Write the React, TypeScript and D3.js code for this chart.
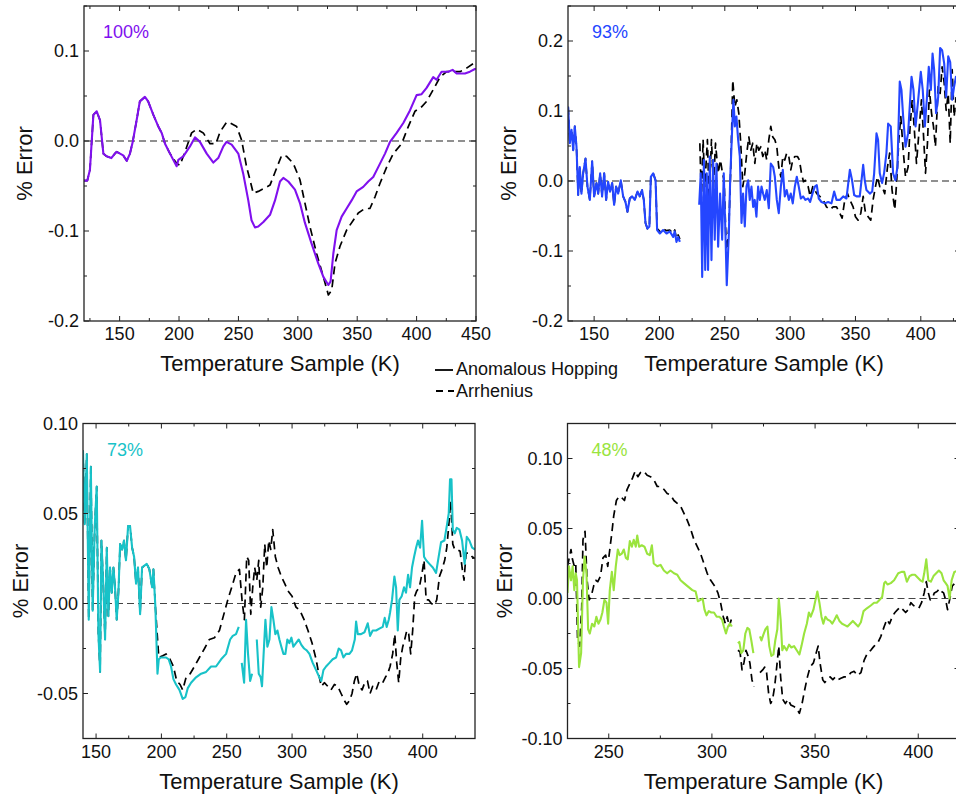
import React from "react";
import * as d3 from "d3";

type Pt = [number, number] | null;

// ---------- Panel A: 100% ----------
const hop100: Pt[] = [
  [120, -0.044], [122.8, -0.044], [125, -0.032], [127.9, 0.029], [130.7, 0.033], [133.5, 0.023], [136.3, -0.014],
  [139, -0.017], [143, -0.019], [146, -0.014], [147.5, -0.012], [150.3, -0.014], [153, -0.016], [156, -0.022],
  [158.7, -0.014], [161, -0.001], [164.3, 0.023], [167, 0.044], [171.3, 0.049], [174, 0.044], [178.4, 0.029],
  [182.6, 0.016], [185.4, 0.009], [188.2, -0.003], [192.4, -0.014], [198, -0.028], [199.4, -0.021], [203.6, -0.017],
  [209.2, -0.006], [213.4, 0.004], [217.6, -0.001], [223.3, -0.014], [228.9, -0.024], [233, -0.019], [237.3, -0.006],
  [240, -0.001], [244.3, -0.004], [249.9, -0.014], [254, -0.036], [258.3, -0.066], [261, -0.088], [263.9, -0.096],
  [266.7, -0.095], [271, -0.09], [276.6, -0.082], [280.8, -0.066], [285, -0.045], [287.8, -0.041], [292, -0.045],
  [297.6, -0.054], [301.8, -0.069], [306, -0.091], [311.6, -0.114], [317.2, -0.136], [321.5, -0.151], [325.7, -0.16],
  [327.6, -0.156], [329.9, -0.125], [332.7, -0.099], [336.9, -0.084], [341.1, -0.075], [345.3, -0.066], [349.5, -0.056],
  [355.1, -0.051], [359.3, -0.045], [363.5, -0.04], [367.7, -0.029], [373.4, -0.014], [377.6, -0.001], [383.2, 0.009],
  [388.8, 0.02], [394.4, 0.034], [400, 0.051], [404.2, 0.052], [408.4, 0.059], [414, 0.071], [416.8, 0.068],
  [421, 0.077], [426.7, 0.077], [430.3, 0.079], [433.7, 0.075], [440.7, 0.075], [444.9, 0.077], [449.1, 0.08], [450, 0.08],
];
const arr100: Pt[] = [
  [120, -0.044], [122.8, -0.044], [125, -0.032], [127.9, 0.029], [130.7, 0.033], [133.5, 0.023], [136.3, -0.014],
  [139, -0.017], [143, -0.019], [146, -0.014], [147.5, -0.012], [150.3, -0.014], [153, -0.016], [156, -0.022],
  [158.7, -0.014], [161, -0.001], [164.3, 0.023], [167, 0.044], [171.3, 0.049], [174, 0.044], [178.4, 0.029],
  [182.6, 0.016], [185.4, 0.009], [188.2, -0.003], [192.4, -0.014], [198, -0.025], [200.8, -0.027], [205, -0.012],
  [210.6, 0.009], [214.8, 0.013], [220.4, 0.009], [226.1, -0.003], [231.1, -0.003], [234.5, 0.01], [240.1, 0.021],
  [242.9, 0.02], [248.5, 0.016], [252.7, 0.001], [256.9, -0.029], [259.7, -0.043], [262.5, -0.058], [266.7, -0.056],
  [271, -0.053], [276.6, -0.049], [282.2, -0.03], [286.4, -0.016], [290.6, -0.017], [296.2, -0.025], [301.8, -0.043],
  [306, -0.069], [310.2, -0.095], [315.8, -0.125], [321.5, -0.151], [325.7, -0.171], [328.5, -0.166], [331.3, -0.136],
  [335.5, -0.117], [341.1, -0.099], [346.7, -0.088], [350.9, -0.08], [356.5, -0.075], [360.7, -0.075], [365, -0.062],
  [369.2, -0.047], [374.8, -0.029], [380.4, -0.014], [387.4, -0.003], [393, 0.016], [398.6, 0.033], [404.2, 0.038],
  [408.4, 0.044], [414, 0.057], [419.7, 0.071], [425.3, 0.077], [430.9, 0.077], [436.5, 0.077], [442.1, 0.081],
  [447.7, 0.086], [450, 0.088],
];

// ---------- Panel B: 93% ----------
const hop93: Pt[] = [
  [130.1, 0.106], [131.4, 0.054], [132.7, 0.073], [134, 0.044], [135.2, 0.078], [136.5, 0.049], [137.8, -0.02],
  [139, 0.02], [140.3, -0.018], [141.6, 0.011], [143.4, 0.032], [144.9, -0.008], [146.7, -0.027], [148.5, 0.028],
  [150, -0.022], [151.8, -0.003], [153.1, -0.018], [154.6, 0.011], [156.1, -0.022], [157.7, 0.011], [159.2, -0.027],
  [160.7, -0.001], [162.2, -0.015], [163.8, -0.003], [165.3, -0.034], [166.8, -0.008], [168.4, -0.018], [170.4, 0.001],
  [172.2, -0.022], [174, -0.03], [175.5, -0.044], [177.3, -0.025], [179.1, -0.022], [181.1, -0.027], [183.2, -0.015],
  [184.9, -0.022], [186.7, -0.013], [188, -0.027], [189.3, -0.06], [190.8, -0.068], [192.3, -0.065], [193.4, 0.006],
  [195.2, 0.011], [197, 0.001], [198.2, -0.07], [200.3, -0.075], [202.8, -0.07], [205.4, -0.075], [207.9, -0.072],
  [210.5, -0.08], [211.7, -0.072], [213, -0.087], [214.3, -0.08], [215.6, -0.087],
  null,
  [230.4, -0.034], [231.6, 0.011], [232.7, -0.137], [234, 0.03], [235, -0.127], [236.2, 0.011], [237.2, -0.127],
  [238.5, 0.035], [239.8, -0.113], [241.1, 0.03], [242.3, -0.084], [243.6, 0.025], [244.9, -0.094], [246.4, -0.018],
  [248, -0.084], [249.2, 0.011], [250.5, -0.075], [251.5, -0.149], [253.1, -0.075], [254.1, 0.001], [255.6, 0.073],
  [256.6, 0.116], [257.7, 0.078], [258.9, 0.092], [260.2, 0.059], [261.5, 0.035], [262.8, -0.06], [264, -0.018],
  [265.3, -0.065], [266.6, -0.008], [267.9, 0.001], [269.1, -0.027], [270.4, -0.008], [271.7, -0.037], [272.9, -0.027],
  [274.2, -0.051], [275.5, -0.008], [276.8, -0.027], [278.1, -0.008], [279.3, -0.018], [280.6, -0.027], [282.1, -0.013],
  [283.7, -0.039], [285.2, 0.025], [287, 0.02], [288.3, 0.006], [289.8, -0.027], [291.3, -0.046], [292.9, -0.008],
  [294.4, 0.016], [295.9, -0.022], [297.4, -0.013], [299, -0.027], [300.5, -0.018], [302, -0.032], [303.6, -0.008],
  [305.1, 0.006], [306.6, -0.008], [308.2, -0.025], [309.9, -0.022], [311.7, -0.027], [313.8, -0.025], [315.3, -0.03],
  [317.1, -0.018], [318.9, -0.008], [320.4, -0.006], [321.9, -0.025], [324, -0.03], [326.5, -0.032], [329.1, -0.03],
  [331.6, -0.032], [333.7, -0.015], [335.5, -0.027], [338, -0.027], [340.6, -0.022], [343.1, -0.025], [345.7, 0.016],
  [347.4, 0.001], [349, -0.02], [350.8, -0.022], [353.3, -0.022], [355.9, 0.023], [357.1, 0.001], [358.4, -0.013],
  [361, -0.018], [362.8, -0.015], [364.3, 0.011], [366.1, 0.068], [367.3, 0.059], [368.6, 0.011], [370.4, -0.003],
  [371.9, 0.011], [373.7, 0.04], [375, 0.082], [377, 0.078], [378.8, 0.011], [380.6, 0.001], [382.1, 0.02],
  [383.9, 0.142], [385.2, 0.13], [386.5, 0.092], [388.3, 0.049], [390.3, 0.068], [392.9, 0.149], [394.4, 0.13],
  [396, 0.078], [398, 0.116], [400, 0.156], [401.5, 0.13], [403.1, 0.078], [404.6, 0.116], [406.1, 0.163],
  [407.7, 0.13], [409, 0.182], [410.2, 0.159], [411.7, 0.097], [413.3, 0.12], [414.8, 0.19], [416.3, 0.187],
  [417.9, 0.168], [419.4, 0.12], [421, 0.178], [422.5, 0.17], [424, 0.116], [425.5, 0.135], [427, 0.15],
];
const arr93: Pt[] = [
  [130.1, 0.106], [131.4, 0.054], [132.7, 0.073], [134, 0.044], [135.2, 0.078], [136.5, 0.049], [137.8, -0.02],
  [139, 0.02], [140.3, -0.018], [141.6, 0.011], [143.4, 0.032], [144.9, -0.008], [146.7, -0.027], [148.5, 0.028],
  [150, -0.022], [151.8, -0.003], [153.1, -0.018], [154.6, 0.011], [156.1, -0.022], [157.7, 0.011], [159.2, -0.027],
  [160.7, -0.001], [162.2, -0.015], [163.8, -0.003], [165.3, -0.034], [166.8, -0.008], [168.4, -0.018], [170.4, 0.001],
  [172.2, -0.022], [174, -0.03], [175.5, -0.044], [177.3, -0.025], [179.1, -0.022], [181.1, -0.027], [183.2, -0.015],
  [184.9, -0.022], [186.7, -0.013], [188, -0.027], [189.3, -0.06], [190.8, -0.068], [192.3, -0.065], [193.4, 0.006],
  [195.2, 0.011], [197, 0.001], [198.2, -0.068], [200.3, -0.072], [202.8, -0.068], [205.4, -0.071], [207.9, -0.07],
  [210.5, -0.075], [211.7, -0.07], [213, -0.082], [214.3, -0.077], [215.6, -0.083],
  null,
  [230.9, 0.054], [232.1, -0.027], [233.4, 0.059], [234.7, -0.008], [236.7, 0.059], [238, -0.027], [239.8, 0.059],
  [241.3, -0.008], [242.9, 0.054], [244.9, 0.011], [246.7, 0.03], [248.2, 0.011], [249.5, 0.001], [251.3, -0.108],
  [253.1, -0.065], [254.6, 0.02], [256.1, 0.144], [257.7, 0.106], [259.2, 0.116], [260.7, 0.097], [262.2, 0.054],
  [263.8, -0.008], [265.3, 0.011], [266.8, 0.04], [268.4, 0.063], [269.9, 0.044], [271.4, 0.054], [273, 0.025],
  [274.5, 0.054], [276, 0.044], [277.6, 0.049], [279.1, 0.035], [280.6, 0.044], [282.1, 0.03], [283.7, 0.059],
  [285.2, 0.078], [286.7, 0.063], [288.3, 0.059], [289.8, 0.049], [291.3, 0.02], [292.9, 0.006], [294.4, 0.035],
  [295.9, 0.03], [297.4, 0.04], [299, 0.035], [300.5, 0.016], [302, 0.03], [303.6, 0.035], [305.6, 0.035],
  [307.1, 0.03], [308.7, 0.011], [310.2, -0.001], [311.7, 0.001], [313.8, -0.008], [315.3, -0.022], [317.3, -0.008],
  [318.9, -0.013], [320.4, -0.018], [322.7, -0.022], [325.3, -0.027], [327.8, -0.037], [330.4, -0.041], [332.9, -0.037],
  [335.5, -0.037], [338, -0.046], [339.8, -0.053], [341.8, -0.027], [343.9, -0.018], [345.7, -0.027], [348.2, -0.037],
  [350, -0.051], [352, -0.056], [354.1, -0.046], [355.9, -0.022], [357.7, -0.046], [359.7, -0.051], [361.7, -0.056],
  [363.5, -0.027], [365.3, -0.008], [366.8, 0.006], [368.6, -0.008], [370.4, -0.008], [372.4, -0.018], [374.5, 0.02],
  [376.2, 0.04], [378, -0.013], [380.1, -0.041], [381.6, 0.001], [383.2, 0.059], [384.7, 0.092], [386.5, 0.044],
  [388.3, 0.006], [390.3, 0.02], [391.8, 0.078], [393.4, 0.116], [394.9, 0.078], [396.7, 0.025], [398.5, 0.068],
  [400.5, 0.116], [402, 0.068], [403.6, 0.011], [405.1, 0.054], [406.6, 0.13], [408.2, 0.097], [409.7, 0.078],
  [411.2, 0.049], [413.3, 0.135], [414.8, 0.125], [416.3, 0.163], [417.9, 0.14], [419.4, 0.101], [421, 0.125],
  [422.5, 0.054], [424, 0.159], [425.5, 0.092], [427, 0.12],
];

// ---------- Panel C: 73% ----------
const hop73: Pt[] = [
  [140, 0.085], [141.3, 0.044], [142.9, 0.083], [144.4, -0.009], [146, 0.076], [147.4, -0.004], [149, 0.043],
  [150.5, 0.065], [151.8, -0.017], [153.1, -0.038], [154.1, 0.035], [155.6, 0.009], [156.9, -0.02], [158.2, 0.031],
  [159.4, -0.007], [160.7, 0.02], [162, 0.006], [163.3, 0.02], [164.5, 0.009], [165.8, -0.009], [167.1, 0.006],
  [168.4, 0.033], [169.9, 0.03], [171.4, 0.035], [172.9, 0.024], [174.5, 0.043], [176, 0.043], [177.6, 0.031],
  [179.1, 0.026], [180.6, 0.011], [182.1, 0.02], [183.7, -0.006], [185.2, 0.02], [187, 0.021], [188.8, 0.022],
  [190.8, 0.019], [192.9, 0.009], [193.9, 0.019], [195.4, -0.002], [197, -0.039], [198, -0.031], [199.5, -0.03],
  [201.5, -0.03], [203.6, -0.03], [205.6, -0.031], [207.4, -0.035], [209.2, -0.042], [211.2, -0.045], [213.8, -0.048],
  [216.3, -0.053], [218.4, -0.052], [220.2, -0.047], [222.7, -0.044], [226.5, -0.041], [230.4, -0.039], [234.2, -0.038],
  [238, -0.035], [241.8, -0.035], [245.7, -0.031], [249.5, -0.028], [252.6, -0.02], [254.6, -0.018], [257.1, -0.017],
  [259.2, -0.013],
  null,
  [261.5, -0.033], [263.3, -0.044], [264.8, -0.009], [266.3, -0.028], [267.9, -0.043], [269.4, -0.039],
  null,
  [273, -0.02], [274.5, -0.039], [276, -0.041], [277, -0.046], [278.1, -0.03], [279.6, -0.009], [281.1, -0.024],
  [282.7, -0.02], [284.2, -0.002], [285.7, -0.009], [287.2, -0.017], [288.8, -0.015], [290.3, -0.02], [291.8, -0.024],
  [293.4, -0.028], [294.9, -0.028], [296.4, -0.02], [297.9, -0.022], [299.5, -0.019], [301, -0.024], [303, -0.022],
  [305.1, -0.02], [307.1, -0.023], [309.2, -0.025], [311.2, -0.026], [313.3, -0.028], [315.8, -0.033], [318.4, -0.037],
  [320.9, -0.041], [322.4, -0.043], [324, -0.037], [326, -0.035], [328.6, -0.033], [331.1, -0.031], [333.7, -0.03],
  [335.7, -0.025], [337.5, -0.026], [339.3, -0.03], [341.3, -0.028], [343.9, -0.028], [345.9, -0.026], [348, -0.02],
  [349, -0.01], [350.3, -0.017], [352.8, -0.017], [355.4, -0.016], [357.9, -0.011], [359.7, -0.018], [361.7, -0.015],
  [364.3, -0.015], [366.8, -0.014], [369.4, -0.013], [370.9, -0.008], [372.4, -0.013], [374, -0.009], [375, -0.005],
  [376.5, 0.002], [378.3, 0.015], [379.6, 0.009], [380.9, -0.015], [382.1, 0.002], [383.9, 0.004], [385.7, 0.009],
  [387.2, 0.006], [388.8, 0.016], [390.3, 0.009], [391.8, 0.02], [393.4, 0.026], [394.9, 0.031], [396.4, 0.035],
  [398, 0.031], [399.5, 0.046], [401, 0.026], [402.6, 0.024], [405.1, 0.022], [407.7, 0.02], [410.2, 0.017],
  [412.2, 0.026], [414, 0.034], [416.6, 0.035], [418.4, 0.043], [419.9, 0.05], [420.9, 0.069], [422, 0.069],
  [423, 0.041], [424.5, 0.039], [426, 0.042], [428.1, 0.041], [430.1, 0.035], [432.1, 0.022], [433.7, 0.037],
  [435.7, 0.035], [437.8, 0.031], [440, 0.03],
];
const arr73: Pt[] = [
  [140, 0.085], [141.3, 0.044], [142.9, 0.083], [144.4, -0.009], [146, 0.076], [147.4, -0.004], [149, 0.043],
  [150.5, 0.065], [151.8, -0.017], [153.1, -0.038], [154.1, 0.035], [155.6, 0.009], [156.9, -0.02], [158.2, 0.031],
  [159.4, -0.007], [160.7, 0.02], [162, 0.006], [163.3, 0.02], [164.5, 0.009], [165.8, -0.009], [167.1, 0.006],
  [168.4, 0.033], [169.9, 0.03], [171.4, 0.035], [172.9, 0.024], [174.5, 0.043], [176, 0.043], [177.6, 0.031],
  [179.1, 0.026], [180.6, 0.011], [182.1, 0.02], [183.7, -0.006], [185.2, 0.02], [187, 0.021], [188.8, 0.022],
  [190.8, 0.019], [192.9, 0.009], [193.9, 0.019], [195.4, -0.002], [198, -0.03], [201, -0.029], [203.6, -0.028],
  [206.6, -0.031], [209.2, -0.035], [211.7, -0.043], [214.3, -0.045], [216.3, -0.048], [218.9, -0.041], [222, -0.039],
  [225.3, -0.035], [229.1, -0.03], [233, -0.025], [236.7, -0.02], [240.6, -0.019], [244.4, -0.015], [247.4, -0.007],
  [250.8, 0.002], [253.8, 0.009], [257.1, 0.017], [259.7, 0.019], [261.7, 0.002], [263.5, -0.009], [265.3, 0.026],
  [266.8, 0.024], [268.4, -0.006], [269.9, 0.009], [271.4, 0.02], [273, 0.013], [274.5, 0.024], [276, -0.002],
  [277.6, 0.009], [279.1, 0.033], [280.6, 0.02], [282.2, 0.035], [283.7, 0.03], [285.2, 0.041], [287.2, 0.026],
  [289.3, 0.02], [291.8, 0.015], [294.4, 0.011], [296.9, 0.007], [300, 0.004], [303, -0.002], [306.1, -0.004],
  [309.2, -0.009], [312.2, -0.015], [315.3, -0.022], [318.4, -0.031], [320.9, -0.041], [322.4, -0.046], [324.7, -0.044],
  [327.3, -0.046], [329.8, -0.048], [332.4, -0.045], [334.9, -0.046], [337.5, -0.05], [340.1, -0.054], [341.8, -0.056],
  [343.9, -0.054], [345.9, -0.05], [347.7, -0.043], [349.5, -0.039], [351.5, -0.046], [353.6, -0.048], [355.6, -0.044],
  [357.7, -0.043], [359.7, -0.05], [361.7, -0.046], [364.3, -0.048], [366.8, -0.043], [369.4, -0.044], [371.4, -0.041],
  [373.2, -0.039], [375, -0.035], [377, -0.028], [378.6, -0.017], [380.1, -0.033], [381.6, -0.044], [383.2, -0.03],
  [384.7, -0.024], [386.2, -0.02], [387.8, -0.015], [389.3, -0.017], [390.8, -0.028], [392.3, -0.015], [393.9, 0.004],
  [395.4, 0.007], [397.4, 0.009], [399.5, 0.017], [401, 0.024], [402.6, 0.002], [404.6, 0.002], [406.6, 0],
  [408.9, -0.001], [410.7, 0.002], [412.8, 0.015], [414.8, 0.019], [416.8, 0.024], [418.4, 0.031], [419.9, 0.043],
  [421.4, 0.057], [423, 0.033], [424.5, 0.03], [426.5, 0.03], [428.6, 0.029], [430.1, 0.02], [431.6, 0.013],
  [433.2, 0.028], [435.7, 0.028], [437.8, 0.026], [440, 0.025],
];

// ---------- Panel D: 48% ----------
const hop48: Pt[] = [
  [230, 0.004], [230.7, 0.023], [231.7, 0.013], [232.5, 0.023], [233.3, 0.006], [234, 0.018], [234.6, 0.013],
  [235.6, -0.049], [236.6, -0.039], [237.5, 0.013], [238.3, 0.03], [239.2, 0.018], [240, -0.022], [240.8, -0.025],
  [241.9, -0.018], [243, -0.02], [244, -0.013], [245, -0.018], [246, -0.015], [246.9, -0.01], [247.9, -0.001],
  [248.9, -0.003], [249.7, -0.018], [250.5, 0.006], [251.5, 0.019], [252.4, 0.006], [253.4, 0.023], [254.4, 0.035],
  [255.3, 0.031], [256.3, 0.032], [257.3, 0.035], [258.3, 0.029], [259.2, 0.028], [260.2, 0.041], [261.2, 0.037],
  [262.1, 0.042], [263.1, 0.037], [263.8, 0.045], [264.7, 0.037], [266, 0.038], [267.3, 0.037], [268.6, 0.032],
  [269.9, 0.031], [270.9, 0.038], [271.8, 0.025], [273.5, 0.023], [275.1, 0.024], [276.7, 0.02], [278.3, 0.018],
  [279.9, 0.02], [281.6, 0.018], [283.2, 0.017], [284.8, 0.013], [286.4, 0.011], [288, 0.009], [290.5, 0.006],
  [292.1, 0.005], [293.2, -0.002], [294.5, -0.001], [295.5, 0], [296.4, -0.008], [297.4, -0.012], [298.5, -0.009],
  [299.7, -0.01], [301, -0.01], [302.3, -0.013], [303.6, -0.013], [304.9, -0.015], [305.8, -0.02], [306.8, -0.025],
  [307.8, -0.02], [308.7, -0.018], [309.7, -0.02],
  null,
  [312.6, -0.032], [313.3, -0.031], [314.2, -0.039], [315.2, -0.037], [316.2, -0.025], [317.2, -0.021], [318.1, -0.022],
  [319.1, -0.03], [320.1, -0.039],
  null,
  [323.3, -0.027], [324, -0.03], [324.9, -0.026], [325.9, -0.022], [326.9, -0.02], [327.8, -0.034], [328.8, -0.041],
  [329.8, -0.04], [330.7, -0.03], [331.7, -0.022], [332.4, 0], [333.3, -0.015], [334.1, -0.037], [334.9, -0.034],
  [336.2, -0.037], [337.4, -0.033], [338.5, -0.035], [339.8, -0.034], [341.1, -0.037], [342.4, -0.04], [343.4, -0.034],
  [344.7, -0.025], [346, -0.018], [347, -0.01], [347.9, -0.013], [349.2, -0.008], [350.2, -0.001], [351.1, 0.005],
  [352.1, -0.003], [353.1, -0.013], [354, -0.018], [355, -0.013], [356, -0.015], [357.3, -0.016], [358.3, -0.018],
  [359.5, -0.015], [360.5, -0.012], [361.8, -0.016], [363.1, -0.018], [364.4, -0.019], [365.7, -0.02], [367, -0.018],
  [368.3, -0.016], [369.6, -0.018], [370.9, -0.02], [372.2, -0.017], [373.5, -0.009], [375.1, -0.007], [377, -0.005],
  [378.6, -0.003], [379.9, -0.003], [381.2, -0.001], [382.5, 0.001], [383.5, 0.011], [384.1, 0.012], [385.1, 0.01],
  [386.7, 0.011], [388.3, 0.013], [390.3, 0.018], [391.9, 0.019], [393.2, 0.019], [394.5, 0.012], [395.8, 0.016],
  [397.1, 0.017], [398.4, 0.017], [399.7, 0.015], [401, 0.013], [402.1, 0.012], [402.9, 0.018], [403.9, 0.028],
  [404.9, 0.013], [406.1, 0.012], [407.4, 0.016], [408.7, 0.018], [410, 0.02], [411.3, 0.018], [412.3, 0.013],
  [413.3, 0.011], [414.2, 0.009], [415.2, 0], [416.2, 0.013], [417.5, 0.019], [420, 0.02],
];
const arr48: Pt[] = [
  [230, 0.023], [230.7, 0.028], [231.7, 0.035], [232.4, 0.028], [233.3, 0.023], [234, 0.025], [234.9, -0.03],
  [235.9, -0.034], [236.9, -0.006], [237.5, 0.042], [238.5, 0.048], [239.5, 0.013], [240.5, -0.001], [241.4, 0.001],
  [242.7, 0.009], [243.7, 0.013], [244.7, 0.012], [246, 0.016], [247.2, 0.029], [248.5, 0.031], [249.5, 0.023],
  [250.5, 0.035], [251.5, 0.047], [252.4, 0.059], [253.7, 0.07], [255, 0.073], [256.3, 0.072], [257.6, 0.07],
  [258.9, 0.078], [260.2, 0.082], [261.5, 0.086], [262.8, 0.091], [264.1, 0.087], [265.4, 0.09], [267, 0.091],
  [268.6, 0.088], [270.2, 0.087], [271.8, 0.085], [273.5, 0.08], [275.1, 0.08], [276.7, 0.078], [278.3, 0.075],
  [279.9, 0.074], [281.6, 0.07], [283.2, 0.068], [284.8, 0.066], [286.4, 0.061], [288, 0.056], [289.6, 0.05],
  [291.3, 0.042], [292.9, 0.037], [294.5, 0.032], [296.1, 0.025], [297.7, 0.018], [299.4, 0.013], [301.3, 0.009],
  [302.9, 0.004], [304.2, -0.003], [305.5, -0.013], [306.5, -0.018], [307.4, -0.013], [308.4, -0.02], [309.4, -0.015],
  null,
  [312.6, -0.037], [313.6, -0.038], [314.6, -0.051], [315.5, -0.046], [316.5, -0.037], [317.5, -0.041], [318.4, -0.046],
  [319.4, -0.058], [320.4, -0.063],
  null,
  [323.3, -0.053], [324.6, -0.051], [325.6, -0.049], [326.5, -0.053], [327.5, -0.068], [328.5, -0.075], [329.4, -0.072],
  [330.4, -0.063], [331.4, -0.049], [332.4, -0.034], [333.3, -0.056], [334.3, -0.072], [335.6, -0.075], [336.9, -0.072],
  [338.2, -0.076], [339.5, -0.077], [340.8, -0.078], [342.4, -0.082], [343.7, -0.075], [345, -0.065], [346.3, -0.056],
  [347.6, -0.049], [349.2, -0.046], [350.5, -0.039], [351.5, -0.034], [352.4, -0.046], [353.7, -0.058], [354.7, -0.06],
  [356, -0.058], [357.3, -0.056], [358.6, -0.058], [359.9, -0.056], [361.2, -0.058], [362.5, -0.057], [364.1, -0.056],
  [365.7, -0.056], [367.3, -0.053], [368.9, -0.052], [370.6, -0.055], [372.2, -0.053], [373.8, -0.044], [375.4, -0.039],
  [377, -0.037], [378.6, -0.034], [380.3, -0.032], [381.9, -0.027], [383.5, -0.02], [384.8, -0.015], [386.1, -0.018],
  [387.4, -0.013], [388.7, -0.01], [390, -0.008], [391.3, -0.006], [392.6, -0.008], [393.9, -0.01], [395.1, -0.008],
  [396.4, -0.003], [397.7, -0.005], [399, -0.006], [400.3, -0.007], [401.6, -0.003], [402.9, 0.004], [403.9, 0.012],
  [404.9, 0.004], [405.8, -0.001], [406.8, 0], [407.8, 0.004], [409.1, 0.005], [410.4, 0.007], [411.3, 0.005],
  [412.3, 0.004], [413.3, -0.001], [414.2, -0.008], [415.2, -0.001], [416.5, 0.009], [417.8, 0.011], [420, 0.012],
];

// Axis ticks and annotations
const xTicksA = [150, 200, 250, 300, 350, 400, 450];
const yTicksA = [-0.2, -0.1, 0, 0.1];
const xTicksB = [150, 200, 250, 300, 350, 400];
const yTicksB = [-0.2, -0.1, 0, 0.1, 0.2];
const xTicksC = [150, 200, 250, 300, 350, 400];
const yTicksC = [-0.05, 0, 0.05, 0.1];
const xTicksD = [250, 300, 350, 400];
const yTicksD = [-0.1, -0.05, 0, 0.05, 0.1];
const fractions = ["100%", "93%", "73%", "48%"];
const legendLabels = ["Anomalous Hopping", "Arrhenius"];

const FONT = "'Liberation Sans', Arial, Helvetica, sans-serif";
const W = 392;
const H = 315;

interface PanelSpec {
  left: number;
  top: number;
  xDomain: [number, number];
  yDomain: [number, number];
  xTicks: number[];
  yTicks: number[];
  xMinorStep: number;
  yMinorStep: number;
  decimals: number;
  label: string;
  labelX: number;
  color: string;
  hop: Pt[];
  arr: Pt[];
  titleGap: number;
  zeroColor: string;
}

const panels: PanelSpec[] = [
  {
    left: 84, top: 6, xDomain: [120, 450], yDomain: [-0.2, 0.15], xTicks: xTicksA, yTicks: yTicksA,
    xMinorStep: 25, yMinorStep: 0.05, decimals: 1, label: fractions[0], labelX: 19, color: "#8010ee",
    hop: hop100, arr: arr100, titleGap: 52, zeroColor: "#222",
  },
  {
    left: 568, top: 6, xDomain: [130, 430], yDomain: [-0.2, 0.25], xTicks: xTicksB, yTicks: yTicksB,
    xMinorStep: 25, yMinorStep: 0.05, decimals: 1, label: fractions[1], labelX: 24, color: "#2446ff",
    hop: hop93, arr: arr93, titleGap: 52, zeroColor: "#222",
  },
  {
    left: 83, top: 423.5, xDomain: [140, 440], yDomain: [-0.075, 0.1], xTicks: xTicksC, yTicks: yTicksC,
    xMinorStep: 25, yMinorStep: 0.025, decimals: 2, label: fractions[2], labelX: 24, color: "#18c2c8",
    hop: hop73, arr: arr73, titleGap: 55, zeroColor: "#444",
  },
  {
    left: 567.5, top: 423.5, xDomain: [230, 420], yDomain: [-0.1, 0.125], xTicks: xTicksD, yTicks: yTicksD,
    xMinorStep: 25, yMinorStep: 0.025, decimals: 2, label: fractions[3], labelX: 24, color: "#9ae43e",
    hop: hop48, arr: arr48, titleGap: 56, zeroColor: "#444",
  },
];

function Panel({ p, idx }: { p: PanelSpec; idx: number }) {
  const x = d3.scaleLinear().domain(p.xDomain).range([0, W]);
  const y = d3.scaleLinear().domain(p.yDomain).range([H, 0]);
  const line = d3
    .line<Pt>()
    .defined((d) => d !== null)
    .x((d) => x((d as [number, number])[0]))
    .y((d) => y((d as [number, number])[1]));

  const eps = 1e-9;
  const xMinor = d3
    .range(Math.ceil(p.xDomain[0] / p.xMinorStep) * p.xMinorStep, p.xDomain[1] + eps, p.xMinorStep)
    .filter((v) => !p.xTicks.some((t) => Math.abs(t - v) < eps));
  const yMinor = d3
    .range(Math.ceil((p.yDomain[0] - eps) / p.yMinorStep) * p.yMinorStep, p.yDomain[1] + eps, p.yMinorStep)
    .filter((v) => !p.yTicks.some((t) => Math.abs(t - v) < 1e-6));
  const fmt = (v: number) => (Math.abs(v) < 1e-9 ? 0 : v).toFixed(p.decimals);
  const clipId = `plot-clip-${idx}`;
  const major = 5;
  const minor = 3;
  const axisColor = "#222";

  return (
    <g transform={`translate(${p.left},${p.top})`}>
      <defs>
        <clipPath id={clipId}>
          <rect x={0} y={0} width={W} height={H} />
        </clipPath>
      </defs>
      <g clipPath={`url(#${clipId})`}>
        <line x1={0} x2={W} y1={y(0)} y2={y(0)} stroke={p.zeroColor} strokeWidth={1.2} strokeDasharray="7,4" />
        <path d={line(p.arr) ?? ""} fill="none" stroke="#000" strokeWidth={1.7} strokeDasharray="8,5" strokeLinejoin="round" />
        <path d={line(p.hop) ?? ""} fill="none" stroke={p.color} strokeWidth={2.1} strokeLinejoin="round" />
      </g>
      {/* ticks on all four sides, pointing inward */}
      {p.xTicks.map((t) => (
        <g key={`xt${t}`}>
          <line x1={x(t)} x2={x(t)} y1={H} y2={H - major} stroke={axisColor} strokeWidth={1} />
          <line x1={x(t)} x2={x(t)} y1={0} y2={major} stroke={axisColor} strokeWidth={1} />
          <text x={x(t)} y={H + 19} textAnchor="middle" fontFamily={FONT} fontSize={18} fill="#111">
            {t}
          </text>
        </g>
      ))}
      {xMinor.map((t) => (
        <g key={`xm${t}`}>
          <line x1={x(t)} x2={x(t)} y1={H} y2={H - minor} stroke={axisColor} strokeWidth={1} />
          <line x1={x(t)} x2={x(t)} y1={0} y2={minor} stroke={axisColor} strokeWidth={1} />
        </g>
      ))}
      {p.yTicks.map((t) => (
        <g key={`yt${t}`}>
          <line x1={0} x2={major} y1={y(t)} y2={y(t)} stroke={axisColor} strokeWidth={1} />
          <line x1={W} x2={W - major} y1={y(t)} y2={y(t)} stroke={axisColor} strokeWidth={1} />
          <text x={-5} y={y(t)} dy="0.35em" textAnchor="end" fontFamily={FONT} fontSize={18} fill="#111">
            {fmt(t)}
          </text>
        </g>
      ))}
      {yMinor.map((t) => (
        <g key={`ym${t}`}>
          <line x1={0} x2={minor} y1={y(t)} y2={y(t)} stroke={axisColor} strokeWidth={1} />
          <line x1={W} x2={W - minor} y1={y(t)} y2={y(t)} stroke={axisColor} strokeWidth={1} />
        </g>
      ))}
      <rect x={0} y={0} width={W} height={H} fill="none" stroke={axisColor} strokeWidth={1.3} />
      <text x={W / 2} y={H + 50} textAnchor="middle" fontFamily={FONT} fontSize={22} fill="#111">
        Temperature Sample (K)
      </text>
      <text
        transform={`translate(${-p.titleGap},${H / 2}) rotate(-90)`}
        textAnchor="middle"
        fontFamily={FONT}
        fontSize={22}
        fill="#111"
      >
        % Error
      </text>
      <text x={p.labelX} y={32} fontFamily={FONT} fontSize={18} fill={p.color}>
        {p.label}
      </text>
    </g>
  );
}

export default function App() {
  return (
    <svg
      width={956}
      height={799}
      viewBox="0 0 956 799"
      style={{ position: "absolute", left: 0, top: 0, background: "#fff" }}
    >
      <rect x={0} y={0} width={956} height={799} fill="#fff" />
      {panels.map((p, i) => (
        <Panel key={i} p={p} idx={i} />
      ))}
      {/* shared legend */}
      <g fontFamily={FONT} fontSize={18} fill="#111">
        <line x1={435} x2={453} y1={370} y2={370} stroke="#000" strokeWidth={1.8} />
        <text x={456} y={375}>{legendLabels[0]}</text>
        <line x1={436} x2={454} y1={391} y2={391} stroke="#000" strokeWidth={1.8} strokeDasharray="7,5" />
        <text x={456} y={397}>{legendLabels[1]}</text>
      </g>
    </svg>
  );
}
